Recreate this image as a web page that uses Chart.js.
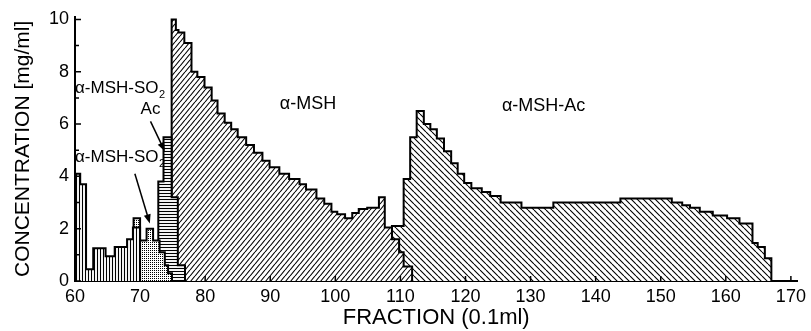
<!DOCTYPE html>
<html>
<head>
<meta charset="utf-8">
<script src="https://cdn.jsdelivr.net/npm/chart.js@4.4.1/dist/chart.umd.min.js"></script>
<style>
  html, body { margin: 0; padding: 0; background: #fff; }
</style>
</head>
<body>
<canvas id="chart" width="811" height="331"></canvas>
<script>
// fraction (0.1 ml) where each step begins, and its concentration (mg/ml)
const bandX = [60, 60.8, 61.7, 62.8, 64.7, 66.1, 68, 68.9];
const bandY = [4.1, 3.7, 0.45, 1.25, 0.95, 1.3, 1.6, 2.05];
const bandEnd = 70;

const so2X = [69, 70, 71, 72, 73, 73.8, 74.3];
const so2Y = [2.4, 1.55, 2.0, 1.55, 1.1, 0.6, 0.3];
const so2End = 74.9;

const so2AcX = [72.8, 73.6, 74.85, 75.8];
const so2AcY = [3.8, 5.5, 3.2, 0.6];
const so2AcEnd = 76.9;

const mshX = [74.85, 75.5, 75.9, 76.8, 77.9, 78.8, 79.9, 81.0, 81.9, 83.0,
  84.0, 85.0, 86.3, 87.5, 88.8, 89.9, 91.4, 92.9, 94.5, 95.5,
  97.1, 98.3, 99.4, 100.3, 101.5, 102.6, 103.6, 104.9, 106.7, 107.6,
  108.7, 109.8, 110.5];
const mshY = [10.0, 9.6, 9.5, 9.1, 8.0, 7.8, 7.4, 6.9, 6.4, 6.05,
  5.8, 5.5, 5.2, 4.9, 4.6, 4.35, 4.1, 3.9, 3.7, 3.5,
  3.15, 2.95, 2.65, 2.55, 2.4, 2.6, 2.75, 2.8, 3.2, 2.05,
  1.6, 1.1, 0.55];
const mshEnd = 111.8;

const mshAcX = [108.7, 110.5, 111.5, 112.5, 113.6, 114.6, 115.6, 116.7, 117.8, 118.8,
  119.8, 120.9, 122.5, 123.8, 125.4, 128.6, 133.5, 143.8, 151.7, 153.3,
  154.5, 156, 158, 160.2, 162.1, 164.1, 164.9, 166];
const mshAcY = [2.1, 3.9, 5.5, 6.5, 6.0, 5.8, 5.45, 4.96, 4.5, 4.1,
  3.75, 3.55, 3.4, 3.25, 3.0, 2.8, 3.0, 3.15, 3.0, 2.9,
  2.8, 2.65, 2.5, 2.4, 2.2, 1.45, 1.3, 0.87];
const mshAcEnd = 167;

const xTickValues = [60, 70, 80, 90, 100, 110, 120, 130, 140, 150, 160, 170];
const yTickValues = [0, 2, 4, 6, 8, 10];
const yMinorTicks = [1, 3, 5, 7, 9];

const FONT = "'Liberation Sans', Arial, Helvetica, sans-serif";

/**
 * hatch / stipple fills, white underneath so upper peaks hide lower ones
 */
function makePattern(kind) {
  const c = document.createElement("canvas");
  let w = 6, h = 6;
  if (kind == "slash") { w = 5; h = 6; }
  if (kind == "back") { w = 6; h = 6; }
  if (kind == "vert") { w = 3; h = 3; }
  if (kind == "horiz") { w = 3; h = 3; }
  if (kind == "dots") { w = 2; h = 2; }
  c.width = w;
  c.height = h;
  const g = c.getContext("2d");
  g.fillStyle = "#fff";
  g.fillRect(0, 0, w, h);
  g.strokeStyle = "#000";
  g.fillStyle = "#000";
  g.lineWidth = 1.1;
  g.beginPath();
  switch (kind) {
    case "slash":
      for (let k = -1; k <= 1; k++) {
        g.moveTo(k * w, h);
        g.lineTo(k * w + w, 0);
      }
      break;
    case "back":
      for (let k = -1; k <= 1; k++) {
        g.moveTo(k * w, 0);
        g.lineTo(k * w + w, h);
      }
      break;
    case "vert":
      g.moveTo(1.5, 0);
      g.lineTo(1.5, h);
      break;
    case "horiz":
      g.moveTo(0, 1.5);
      g.lineTo(w, 1.5);
      break;
    case "dots":
      g.fillRect(0, 0, 1, 1);
      break;
  }
  g.stroke();
  return g.createPattern(c, "repeat");
}

function stepPoints(xs, ys, end) {
  const pts = [{ x: xs[0], y: 0 }];
  xs.forEach((x, i) => pts.push({ x: x, y: ys[i] }));
  pts.push({ x: end, y: 0 });
  return pts;
}

function peak(xs, ys, end, kind) {
  return {
    data: stepPoints(xs, ys, end),
    stepped: true,
    fill: "origin",
    backgroundColor: makePattern(kind),
    borderColor: "#000",
    borderWidth: 2,
    borderJoinStyle: "miter",
    pointRadius: 0,
  };
}

function drawSO2(ctx, px, py, size) {
  ctx.font = size + "px " + FONT;
  ctx.textAlign = "left";
  ctx.textBaseline = "middle";
  ctx.fillText("α-MSH-SO", px, py);
  const w = ctx.measureText("α-MSH-SO").width;
  ctx.font = Math.round(size * 0.65) + "px " + FONT;
  ctx.fillText("2", px + w + 0.5, py + 6);
}

function drawArrow(ctx, x1, y1, x2, y2) {
  const a = Math.atan2(y2 - y1, x2 - x1);
  ctx.beginPath();
  ctx.moveTo(x1, y1);
  ctx.lineTo(x2 - 6 * Math.cos(a), y2 - 6 * Math.sin(a));
  ctx.lineWidth = 1.5;
  ctx.stroke();
  ctx.beginPath();
  ctx.moveTo(x2, y2);
  ctx.lineTo(x2 - 9 * Math.cos(a) + 3.5 * Math.sin(a), y2 - 9 * Math.sin(a) - 3.5 * Math.cos(a));
  ctx.lineTo(x2 - 9 * Math.cos(a) - 3.5 * Math.sin(a), y2 - 9 * Math.sin(a) + 3.5 * Math.cos(a));
  ctx.closePath();
  ctx.fill();
}

// inward tick marks and the peak names
const decorPlugin = {
  id: "decor",
  afterDraw(chart) {
    const { ctx, chartArea, scales } = chart;
    const x = scales.x, y = scales.y;
    ctx.save();
    ctx.strokeStyle = "#000";
    ctx.fillStyle = "#000";
    ctx.lineWidth = 1.5;
    ctx.beginPath();
    yTickValues.concat(yMinorTicks).forEach(v => {
      const py = y.getPixelForValue(v);
      const len = v % 2 == 0 ? 6 : 4;
      ctx.moveTo(chartArea.left, py);
      ctx.lineTo(chartArea.left + len, py);
    });
    xTickValues.forEach(v => {
      const px = x.getPixelForValue(v);
      ctx.moveTo(px, chartArea.bottom);
      ctx.lineTo(px, chartArea.bottom - 5);
    });
    ctx.stroke();

    drawSO2(ctx, x.getPixelForValue(60), y.getPixelForValue(7.35), 17);
    drawSO2(ctx, x.getPixelForValue(60), y.getPixelForValue(4.72), 17);

    ctx.font = "17px " + FONT;
    ctx.textAlign = "center";
    ctx.textBaseline = "middle";
    ctx.fillText("Ac", x.getPixelForValue(71.6), y.getPixelForValue(6.55));

    ctx.font = "18px " + FONT;
    ctx.fillText("α-MSH", x.getPixelForValue(95.8), y.getPixelForValue(6.75));
    ctx.fillText("α-MSH-Ac", x.getPixelForValue(132), y.getPixelForValue(6.7));

    drawArrow(ctx, x.getPixelForValue(71.6), y.getPixelForValue(6.1),
      x.getPixelForValue(73.8), y.getPixelForValue(4.96));
    drawArrow(ctx, x.getPixelForValue(69.2), y.getPixelForValue(4.1),
      x.getPixelForValue(71.5), y.getPixelForValue(2.2));
    ctx.restore();
  },
};

const ctx = document.getElementById("chart");
new Chart(ctx, {
  type: "line",
  data: {
    // first dataset is painted last (on top)
    datasets: [
      peak(bandX, bandY, bandEnd, "vert"),
      peak(so2X, so2Y, so2End, "dots"),
      peak(so2AcX, so2AcY, so2AcEnd, "horiz"),
      peak(mshX, mshY, mshEnd, "slash"),
      peak(mshAcX, mshAcY, mshAcEnd, "back"),
    ],
  },
  options: {
    responsive: false,
    animation: false,
    events: [],
    layout: { padding: { left: 0, top: 14, right: 11, bottom: 0 } },
    plugins: { legend: { display: false }, tooltip: { enabled: false } },
    scales: {
      x: {
        type: "linear",
        min: 60,
        max: 171,
        afterBuildTicks: s => { s.ticks = xTickValues.map(v => ({ value: v })); },
        afterFit: s => { s.height = 50; },
        grid: { drawOnChartArea: false, drawTicks: false },
        border: { display: true, color: "#000", width: 2 },
        ticks: { color: "#000", padding: 5, font: { family: FONT, size: 18 } },
        title: {
          display: true,
          text: "FRACTION (0.1ml)",
          color: "#000",
          padding: { top: 0, bottom: 0 },
          font: { family: FONT, size: 22 },
        },
      },
      y: {
        min: 0,
        max: 10.1,
        afterBuildTicks: s => { s.ticks = yTickValues.map(v => ({ value: v })); },
        afterFit: s => { s.width = 75; },
        grid: { drawOnChartArea: false, drawTicks: false },
        border: { display: true, color: "#000", width: 2 },
        ticks: { color: "#000", padding: 6, font: { family: FONT, size: 18 } },
        title: {
          display: true,
          text: "CONCENTRATION [mg/ml]",
          color: "#000",
          padding: { top: 11, bottom: 0 },
          font: { family: FONT, size: 21 },
        },
      },
    },
  },
  plugins: [decorPlugin],
});
</script>
</body>
</html>
